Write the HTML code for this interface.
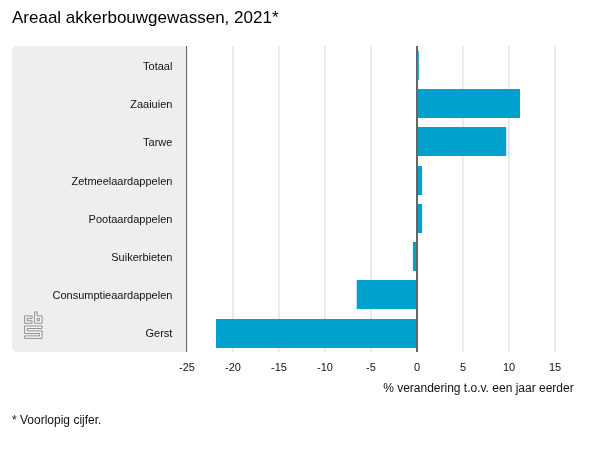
<!DOCTYPE html>
<html><head><meta charset="utf-8"><title>Areaal akkerbouwgewassen</title>
<style>
html,body{margin:0;padding:0;background:#fff;}
body{width:600px;height:450px;overflow:hidden;font-family:"Liberation Sans",Arial,sans-serif;}
svg{display:block}
text{font-family:"Liberation Sans",Arial,sans-serif;fill:#111}
</style></head><body>
<svg width="600" height="450" viewBox="0 0 600 450">
<rect width="600" height="450" fill="#fff"/>
<text x="12" y="23.4" font-size="17" style="fill:#000">Areaal akkerbouwgewassen, 2021*</text>
<path d="M17 46H187V352H17a5 5 0 0 1-5-5V51a5 5 0 0 1 5-5z" fill="#eeeeee"/>

<rect x="232.4" y="46" width="1" height="306" fill="#d6d6d6"/>
<rect x="278.4" y="46" width="1" height="306" fill="#d6d6d6"/>
<rect x="324.4" y="46" width="1" height="306" fill="#d6d6d6"/>
<rect x="370.4" y="46" width="1" height="306" fill="#d6d6d6"/>
<rect x="462.4" y="46" width="1" height="306" fill="#d6d6d6"/>
<rect x="508.4" y="46" width="1" height="306" fill="#d6d6d6"/>
<rect x="554.4" y="46" width="1" height="306" fill="#d6d6d6"/>
<rect x="417.0" y="51" width="1.8" height="29" fill="#00a1cd"/>
<rect x="417.0" y="89" width="103.0" height="29" fill="#00a1cd"/>
<rect x="417.0" y="127" width="89.2" height="29" fill="#00a1cd"/>
<rect x="417.0" y="166" width="5.1" height="29" fill="#00a1cd"/>
<rect x="417.0" y="204" width="5.1" height="29" fill="#00a1cd"/>
<rect x="412.9" y="242" width="4.1" height="29" fill="#00a1cd"/>
<rect x="356.7" y="280" width="60.3" height="29" fill="#00a1cd"/>
<rect x="216.0" y="319" width="201.0" height="29" fill="#00a1cd"/>
<rect x="186" y="46" width="1.12" height="306" fill="#6c6c6c"/>
<rect x="416" y="46" width="2" height="306" fill="#666"/>
<text x="172.4" y="70.1" font-size="11" text-anchor="end">Totaal</text>
<text x="172.4" y="108.2" font-size="11" text-anchor="end">Zaaiuien</text>
<text x="172.4" y="146.4" font-size="11" text-anchor="end">Tarwe</text>
<text x="172.4" y="184.5" font-size="11" text-anchor="end">Zetmeelaardappelen</text>
<text x="172.4" y="222.7" font-size="11" text-anchor="end">Pootaardappelen</text>
<text x="172.4" y="260.8" font-size="11" text-anchor="end">Suikerbieten</text>
<text x="172.4" y="298.9" font-size="11" text-anchor="end">Consumptieaardappelen</text>
<text x="172.4" y="337.1" font-size="11" text-anchor="end">Gerst</text>
<text x="187.0" y="370.7" font-size="11" text-anchor="middle">-25</text>
<text x="233.0" y="370.7" font-size="11" text-anchor="middle">-20</text>
<text x="279.0" y="370.7" font-size="11" text-anchor="middle">-15</text>
<text x="325.0" y="370.7" font-size="11" text-anchor="middle">-10</text>
<text x="371.0" y="370.7" font-size="11" text-anchor="middle">-5</text>
<text x="417.0" y="370.7" font-size="11" text-anchor="middle">0</text>
<text x="463.0" y="370.7" font-size="11" text-anchor="middle">5</text>
<text x="509.0" y="370.7" font-size="11" text-anchor="middle">10</text>
<text x="555.0" y="370.7" font-size="11" text-anchor="middle">15</text>
<path d="M24.60 315.90 L32.10 315.90 L32.10 318.33 L27.10 318.33 L27.10 320.77 L32.10 320.77 L32.10 323.20 L24.60 323.20Z M34.60 311.90 L37.10 311.90 L37.10 315.90 L42.10 315.90 L42.10 323.20 L34.60 323.20Z M37.10 318.33 L39.60 318.33 L39.60 320.77 L37.10 320.77Z M24.60 326.00 L42.10 326.00 L42.10 328.48 L27.10 328.48 L27.10 330.96 L42.10 330.96 L42.10 338.40 L24.60 338.40 L24.60 335.92 L39.60 335.92 L39.60 333.44 L24.60 333.44Z" fill="#f6f6f6" fill-rule="evenodd" stroke="#787878" stroke-width="0.8" stroke-linejoin="miter"/>
<text x="573.7" y="391.7" font-size="12" text-anchor="end">% verandering t.o.v. een jaar eerder</text>
<text x="12" y="423.7" font-size="12">* Voorlopig cijfer.</text>
</svg></body></html>
